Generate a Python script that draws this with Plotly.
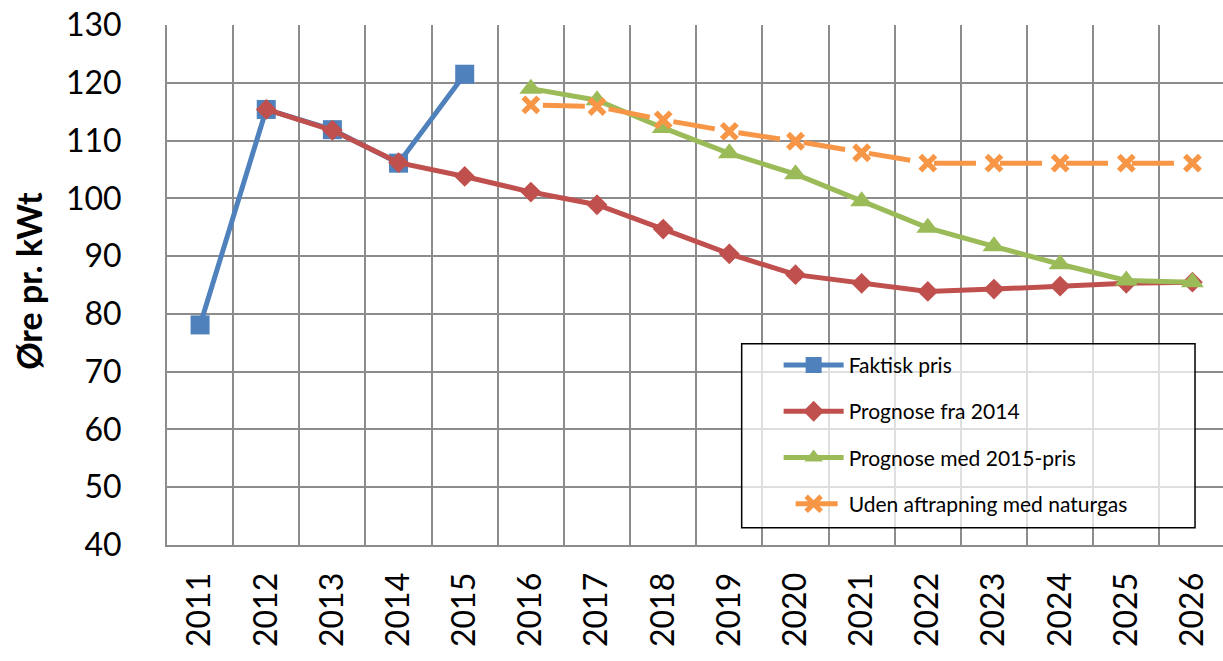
import plotly.graph_objects as go

years = [2011, 2012, 2013, 2014, 2015, 2016, 2017, 2018, 2019, 2020, 2021, 2022, 2023, 2024, 2025, 2026]
year_labels = [str(y) for y in years]

faktisk_years = [2011, 2012, 2013, 2014, 2015]
faktisk = [78.1, 115.4, 111.9, 106.1, 121.5]

prog2014_years = years[1:]
prog2014 = [115.4, 111.8, 106.2, 103.8, 101.1, 98.9, 94.7, 90.4, 86.8, 85.3, 83.9, 84.3, 84.8, 85.3, 85.5]

prog2015_years = years[5:]
prog2015 = [119.0, 117.0, 112.2, 107.8, 104.2, 99.5, 94.9, 91.7, 88.6, 85.8, 85.5]

uden_years = years[5:]
uden = [116.2, 115.9, 113.6, 111.6, 109.9, 107.9, 106.1, 106.1, 106.1, 106.1, 106.1]

series_names = ["Faktisk pris", "Prognose fra 2014", "Prognose med 2015-pris", "Uden aftrapning med naturgas"]

FONT = "Lato"
GRID = "#8c8c8c"

fig = go.Figure()
fig.add_trace(go.Scatter(
    x=faktisk_years, y=faktisk, name=series_names[0], legendgroup="a",
    mode="lines+markers",
    line=dict(color="#4F81BD", width=5),
    marker=dict(symbol="square", size=19, color="#4F81BD"),
))
fig.add_trace(go.Scatter(
    x=prog2014_years, y=prog2014, name=series_names[1], legendgroup="b",
    mode="lines+markers",
    line=dict(color="#C0504D", width=5),
    marker=dict(symbol="diamond", size=16, color="#C0504D"),
))
fig.add_trace(go.Scatter(
    x=prog2015_years, y=prog2015, name=series_names[2], legendgroup="c",
    mode="lines+markers",
    line=dict(color="#9BBB59", width=5),
    marker=dict(symbol="triangle-up", size=20, color="#9BBB59"),
))
fig.add_trace(go.Scatter(
    x=uden_years, y=uden, name=series_names[3], legendgroup="d",
    mode="lines+markers",
    line=dict(color="#F79646", width=5, dash="0px,12px,42px,12px"),
    marker=dict(symbol="x-thin", size=15, color="#F79646",
                line=dict(color="#F79646", width=5.5)),
))

fig.update_layout(
    width=1223, height=661,
    margin=dict(l=167, r=0, t=25, b=116),
    paper_bgcolor="white", plot_bgcolor="white",
    font=dict(family=FONT, color="black", size=32),
    showlegend=True,
    legend=dict(
        x=0.5792, xanchor="left", y=0.385, yanchor="top",
        bgcolor="rgba(0,0,0,0)", borderwidth=0,
        font=dict(family=FONT, size=21, color="black"),
        traceorder="grouped", tracegroupgap=16, itemwidth=60,
    ),
    shapes=[dict(
        type="rect", xref="paper", yref="paper",
        x0=0.5442, x1=0.9735, y0=0.0333, y1=0.3869,
        line=dict(color="black", width=1.5),
        fillcolor="rgba(255,255,255,0.72)", layer="above",
    )],
    annotations=[dict(
        text="<b>Øre pr. kWt</b>", xref="paper", yref="paper",
        x=-0.1307, y=0.508, xanchor="center", yanchor="middle",
        textangle=-90, showarrow=False,
        font=dict(family=FONT, size=34, color="black"),
    )],
)

fig.update_xaxes(
    range=[2010.5, 2026.462], automargin=False, ticklabeloverflow="allow",
    tickmode="array", tickvals=years, ticktext=year_labels,
    tickangle=-90, ticks="outside", ticklen=13, tickcolor="rgba(0,0,0,0)",
    tickfont=dict(family=FONT, size=32, color="black"),
    showgrid=False, zeroline=False,
    showline=True, linecolor=GRID, linewidth=2,
    minor=dict(tick0=2010.5, dtick=1, showgrid=True, gridcolor=GRID, gridwidth=2),
)
fig.update_yaxes(
    range=[40, 130.02], dtick=10, tick0=40, automargin=False, ticklabeloverflow="allow",
    ticks="outside", ticklen=37, tickcolor="rgba(0,0,0,0)",
    tickfont=dict(family=FONT, size=32, color="black"),
    showgrid=True, gridcolor=GRID, gridwidth=2, zeroline=False,
    showline=True, linecolor=GRID, linewidth=2,
)

fig.write_html(
    "out.html",
    config={"displayModeBar": False},
    post_script="document.body.style.margin='0';document.body.style.overflow='hidden';",
)
